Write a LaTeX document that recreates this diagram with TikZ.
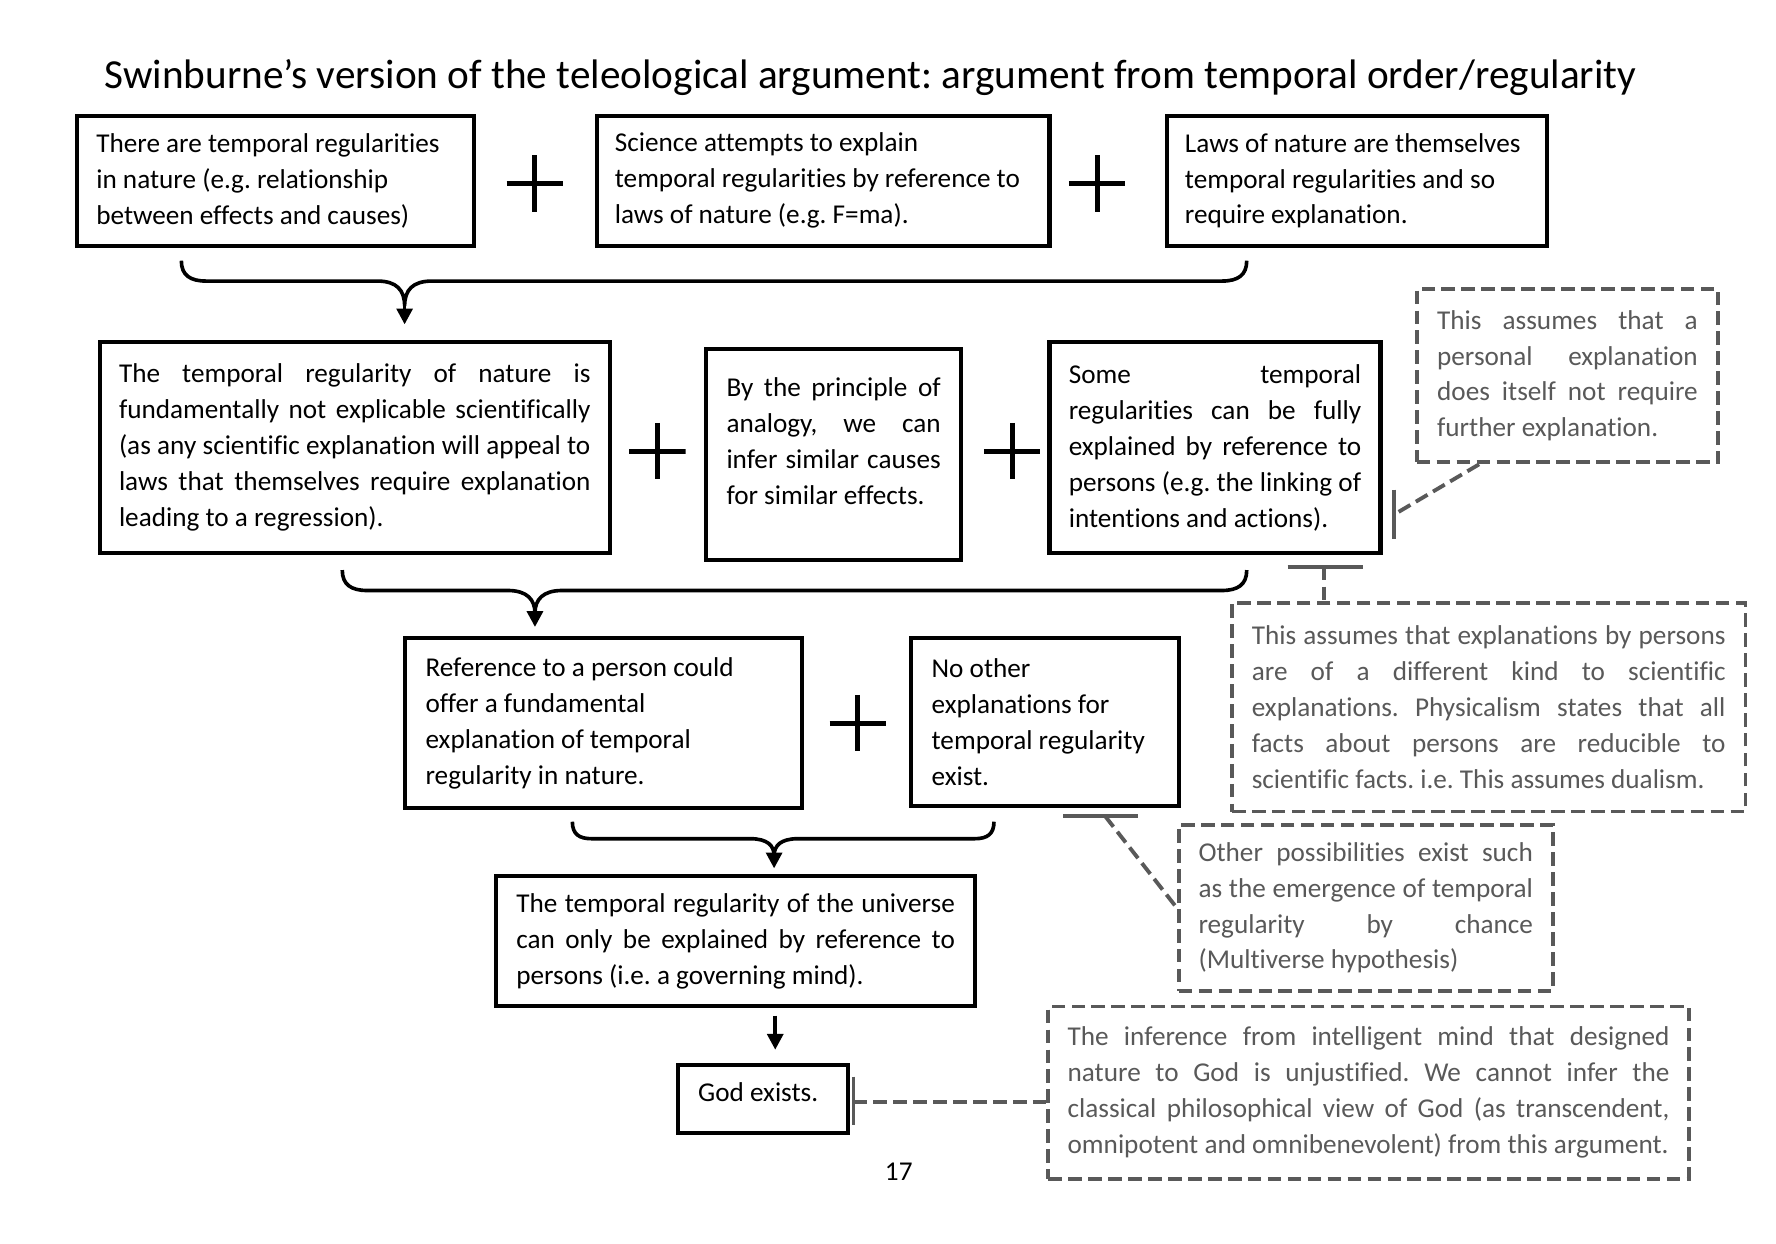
\documentclass[tikz,border=0pt]{standalone}
\usepackage{fontspec}
\setmainfont{Carlito}[Ligatures={TeX,NoCommon}]
\usetikzlibrary{arrows.meta,calc}
\definecolor{notegrey}{HTML}{595959}
\newcommand{\bodyfont}{\fontsize{12pt}{15.85pt}\selectfont}
\newcommand{\natsp}{\spaceskip=0pt\xspaceskip=0pt\frenchspacing}
\newcommand{\jl}[1]{\makebox[\hsize][s]{\natsp #1}}
\newcommand{\lastl}[1]{\makebox[\hsize][l]{\natsp #1}}
\begin{document}
\begin{tikzpicture}[x=0.5pt,y=-0.5pt,
  box/.style={draw=black, line width=1.8pt, inner xsep=0pt, inner ysep=0pt, font=\bodyfont, align=left, fill=white},
  note/.style={draw=notegrey, line width=1.7pt, dash pattern=on 6pt off 2.8pt, inner xsep=0pt, inner ysep=0pt, font=\bodyfont, text=notegrey, align=left, fill=white},
  plus/.style={minimum size=25pt, inner sep=0pt, path picture={\draw[line width=2.2pt] (path picture bounding box.north) -- (path picture bounding box.south) (path picture bounding box.west) -- (path picture bounding box.east);}},
  brace/.style={draw=black, line width=1.6pt},
  arr/.style={-{Triangle[length=7pt,width=7pt]}},
  notedash/.style={draw=notegrey, line width=1.7pt, dash pattern=on 6pt off 2.8pt},
  notebar/.style={draw=notegrey, line width=1.7pt}
]
\fill[white] (0,0) rectangle (1567,1097);
\useasboundingbox (0,0) rectangle (1567,1097);

% title
\node[font=\fontsize{18.2pt}{22pt}\selectfont, anchor=base, inner sep=0pt] (title) at (768,78)
  {\frenchspacing Swinburne’s version of the teleological argument: argument from temporal order/regularity};

% row 1
\node[box, minimum width=175pt, minimum height=57.5pt, text width=158pt] (b1) at (243,159.5)
  {\lastl{There are temporal regularities}\\\lastl{in nature (e.g. relationship}\\\lastl{between effects and causes)}};
\node[plus] (p1) at (472,162) {};
\node[box, minimum width=199.5pt, minimum height=57.5pt, text width=184pt] (b2) at (726.5,159.5)
  {\lastl{Science attempts to explain}\\\lastl{temporal regularities by reference to}\\\lastl{laws of nature (e.g. F=ma).}};
\node[plus] (p2) at (968,162) {};
\node[box, minimum width=167.5pt, minimum height=57.5pt, text width=152pt] (b3) at (1197.5,159.5)
  {\lastl{Laws of nature are themselves}\\\lastl{temporal regularities and so}\\\lastl{require explanation.}};

% brace 1
\draw[brace] (160,230) .. controls (160,243) and (168,248) .. (182,248) -- (333,248)
  .. controls (350,248) and (357,256) .. (357,270)
  .. controls (357,256) and (364,248) .. (381,248) -- (1078,248)
  .. controls (1092,248) and (1100,243) .. (1100,230);
\coordinate (c1) at (357,270);

% row 2
\node[box, minimum width=225pt, minimum height=93pt, text width=208pt] (b4) at (313,395)
  {\jl{The temporal regularity of nature is}\\\jl{fundamentally not explicable scientifically}\\\jl{(as any scientific explanation will appeal to}\\\jl{laws that themselves require explanation}\\\lastl{leading to a regression).}};
\node[plus] (p3) at (580,398) {};
\node[box, minimum width=112.5pt, minimum height=93pt, text width=94.5pt] (b5) at (735.5,401)
  {\jl{By the principle of}\\\jl{analogy, we can}\\\jl{infer similar causes}\\\lastl{for similar effects.}\\[-4pt]\mbox{}};
\node[plus] (p4) at (893,398) {};
\node[box, minimum width=146pt, minimum height=93pt, text width=129pt] (b6) at (1072,395)
  {\jl{Some temporal}\\\jl{regularities can be fully}\\\jl{explained by reference to}\\\jl{persons (e.g. the linking of}\\\lastl{intentions and actions).}};
\node[note, minimum width=133pt, minimum height=76.5pt, text width=115pt] (n1) at (1383,331.5)
  {\jl{This assumes that a}\\\jl{personal explanation}\\\jl{does itself not require}\\\lastl{further explanation.}};

\draw[brace, arr, shorten >=7pt] (c1) -- (c1 |- b4.north);

% brace 2
\draw[brace] (302,503) .. controls (302,516) and (310,521) .. (324,521) -- (448,521)
  .. controls (465,521) and (472,529) .. (472,541)
  .. controls (472,529) and (479,521) .. (496,521) -- (1078,521)
  .. controls (1092,521) and (1100,516) .. (1100,503);
\coordinate (c2) at (472,541);

\node[note, minimum width=226.5pt, minimum height=92pt, text width=209pt] (n2) at (1313.5,624)
  {\jl{This assumes that explanations by persons}\\\jl{are of a different kind to scientific}\\\jl{explanations. Physicalism states that all}\\\jl{facts about persons are reducible to}\\\lastl{scientific facts. i.e. This assumes dualism.}};

% row 3
\node[box, minimum width=175.5pt, minimum height=75pt, text width=157pt] (b7) at (532.5,638)
  {\lastl{Reference to a person could}\\\lastl{offer a fundamental}\\\lastl{explanation of temporal}\\\lastl{regularity in nature.}};
\node[plus] (p5) at (757,638) {};
\node[box, minimum width=118pt, minimum height=74pt, text width=100pt] (b8) at (922,637)
  {\lastl{No other}\\\lastl{explanations for}\\\lastl{temporal regularity}\\\lastl{exist.}};

\draw[brace, arr, shorten >=4pt] (c2) -- (c2 |- b7.north);

% brace 3
\draw[brace] (505,725) .. controls (505,736) and (511,740) .. (522,740) -- (662,740)
  .. controls (677,740) and (683,746) .. (683,755)
  .. controls (683,746) and (689,740) .. (704,740) -- (860,740)
  .. controls (871,740) and (877,736) .. (877,725);
\coordinate (c3) at (683,755);

\node[note, minimum width=165pt, minimum height=73pt, text width=147.5pt] (n3) at (1205,801)
  {\jl{Other possibilities exist such}\\\jl{as the emergence of temporal}\\\jl{regularity by chance}\\\lastl{(Multiverse hypothesis)}};

% row 4
\node[box, minimum width=211pt, minimum height=57.5pt, text width=193.5pt] (b9) at (649,830.5)
  {\jl{The temporal regularity of the universe}\\\jl{can only be explained by reference to}\\\lastl{persons (i.e. a governing mind).}};
\draw[brace, arr, shorten >=2.5pt] (c3) -- (c3 |- b9.north);

\node[box, minimum width=75pt, minimum height=30pt, text width=57pt] (b10) at (673,970) {\lastl{God exists.}\\[-9pt]\mbox{}};
\coordinate (a9) at (684,888);
\draw[brace, arr, shorten <=4pt, shorten >=6pt] (a9) -- (a9 |- b10.north);

\node[note, minimum width=282.5pt, minimum height=76pt, text width=265.5pt] (n4) at (1207.5,964)
  {\jl{The inference from intelligent mind that designed}\\\jl{nature to God is unjustified. We cannot infer the}\\\jl{classical philosophical view of God (as transcendent,}\\\lastl{omnipotent and omnibenevolent) from this argument.}};

% note connectors
\coordinate (t1) at (1230,454);
\draw[notebar] (1230,432) -- (1230,476);
\draw[notedash] ([xshift=-39pt]n1.south) -- (t1);

\coordinate (t2) at (1168,500);
\draw[notebar] (1136,500) -- (1203,500);
\draw[notedash] (t2) -- (t2 |- n2.north);

\coordinate (t3) at (975,720);
\draw[notebar] (938,720) -- (1004,720);
\draw[notedash] (t3) -- (n3.west);

\coordinate (t4) at (753,972);
\draw[notebar] (753,950) -- (753,993);
\draw[notedash] (t4) -- (t4 -| n4.west);

% page number
\node[font=\bodyfont, anchor=base, inner sep=0pt] (pg) at (793,1042) {17};
\end{tikzpicture}
\end{document}
